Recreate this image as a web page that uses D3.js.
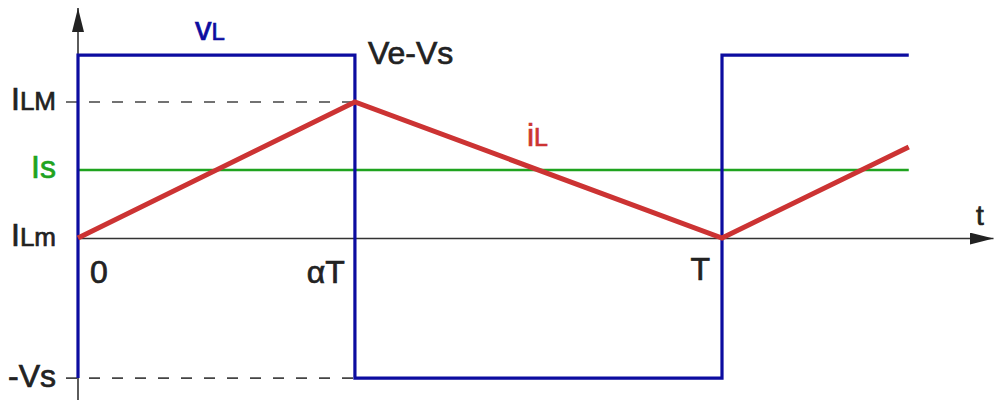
<!DOCTYPE html>
<html>
<head>
<meta charset="utf-8">
<script src="https://cdn.jsdelivr.net/npm/d3@7"></script>
<style>
body{margin:0;background:#fff;}
svg{display:block;font-family:"Liberation Sans",Arial,sans-serif;}
svg text{stroke-width:0.7px;}
</style>
</head>
<body>
<svg id="svg" width="994" height="401"></svg>
<script>
// time in units of T, amplitude in arbitrary units (ILm = 0)
var alpha=0.43;
var tEnd=1.29;
var timeTicks=[0,alpha,1];
var timeLabels=["0","αT","T"];

var vLTimes=[0,0,alpha,1,tEnd];
var vLValues=[-2.06,2.69,-2.06,2.69,2.69];

var iLTimes=[0,alpha,1,tEnd];
var iLValues=[0,2,0,1.34];

var IsValue=1;
var ILMValue=2, ILmValue=0, VsValue=-2.06;

var blue="#0c0ca0", red="#cc3333", green="#1fa31f", ink="#222";

var svg=d3.select("#svg");

var x=d3.scaleLinear().domain([0,915/644]).range([78,993]);
var y=d3.scaleLinear().domain([-162/68,230/68]).range([400,8]);

var defs=svg.append("defs");
defs.append("marker")
    .attr("id","arrow")
    .attr("viewBox","0 0 24 12")
    .attr("refX",24).attr("refY",6)
    .attr("markerWidth",24).attr("markerHeight",12)
    .attr("markerUnits","userSpaceOnUse")
    .attr("orient","auto")
  .append("path")
    .attr("d","M0,0L24,6L0,12Z")
    .attr("fill","#222");

// axes
svg.append("g")
    .attr("transform","translate(0,"+y(0)+")")
    .call(d3.axisBottom(x).tickValues([]).tickSizeOuter(0))
    .select(".domain")
        .attr("stroke","#333")
        .attr("stroke-width",1.6)
        .attr("marker-end","url(#arrow)");

svg.append("line")
    .attr("x1",x(0)).attr("x2",x(0))
    .attr("y1",y.range()[0]).attr("y2",y.range()[1])
    .attr("stroke","#333")
    .attr("stroke-width",1.6)
    .attr("marker-end","url(#arrow)");

// dashed guides
[ILMValue,VsValue].forEach(v=>{
    svg.append("line")
        .attr("x1",x(0)-12).attr("x2",x(alpha))
        .attr("y1",y(v)).attr("y2",y(v))
        .attr("stroke","#444")
        .attr("stroke-width",1.6)
        .attr("stroke-dasharray","11,12");
});

// Is level
svg.append("line")
    .attr("x1",x(0)).attr("x2",x(tEnd))
    .attr("y1",y(IsValue)).attr("y2",y(IsValue))
    .attr("stroke",green)
    .attr("stroke-width",2.6);

// vL
var stepLine=d3.line().x(d=>x(d[0])).y(d=>y(d[1])).curve(d3.curveStepAfter);
svg.append("path")
    .datum(d3.zip(vLTimes,vLValues))
    .attr("d",stepLine)
    .attr("fill","none")
    .attr("stroke",blue)
    .attr("stroke-width",3.2)
    .attr("stroke-linejoin","miter");

// iL
var line=d3.line().x(d=>x(d[0])).y(d=>y(d[1]));
svg.append("path")
    .datum(d3.zip(iLTimes,iLValues))
    .attr("d",line)
    .attr("fill","none")
    .attr("stroke",red)
    .attr("stroke-width",5)
    .attr("stroke-linejoin","miter");

// time labels
var tl=[{t:0,dx:12,anchor:"start",by:283},{t:alpha,dx:-10,anchor:"end",by:283},{t:1,dx:-12,anchor:"end",by:280}];
svg.selectAll(".tlabel")
    .data(timeTicks).enter().append("text")
        .attr("class","tlabel")
        .attr("x",(d,i)=>x(d)+tl[i].dx)
        .attr("y",(d,i)=>tl[i].by)
        .attr("text-anchor",(d,i)=>tl[i].anchor)
        .attr("font-size",32)
        .attr("fill",ink).attr("stroke",ink)
        .text((d,i)=>timeLabels[i]);

// level labels
function levelLabel(v,main,sub,color,by,subSize){
    var t=svg.append("text")
        .attr("x",x(0)-22)
        .attr("y",by)
        .attr("text-anchor","end")
        .attr("fill",color).attr("stroke",color)
        .attr("font-size",32);
    t.append("tspan").text(main);
    if(sub) t.append("tspan").attr("font-size",subSize).text(sub);
}
levelLabel(ILMValue,"I","LM",ink,y(ILMValue)+8,26);
levelLabel(IsValue,"Is","",green,y(IsValue)+8,0);
levelLabel(ILmValue,"I","Lm",ink,y(ILmValue)+8,26);
levelLabel(VsValue,"-Vs","",ink,y(VsValue)+9,0);

// signal names
var vt=svg.append("text").attr("x",195).attr("y",40).attr("fill",blue).attr("stroke",blue).attr("font-size",33);
vt.append("tspan").text("v");
vt.append("tspan").attr("font-size",24).text("L");

var it=svg.append("text").attr("x",527).attr("y",146).attr("fill",red).attr("stroke",red).attr("font-size",32);
it.append("tspan").text("i");
it.append("tspan").attr("font-size",25).text("L");

svg.append("text").attr("x",x(alpha)+13).attr("y",64).attr("fill",ink).attr("stroke",ink).attr("font-size",32).text("Ve-Vs");
svg.append("text").attr("x",976).attr("y",225).attr("fill",ink).attr("stroke",ink).attr("font-size",28).text("t");
</script>
</body>
</html>
